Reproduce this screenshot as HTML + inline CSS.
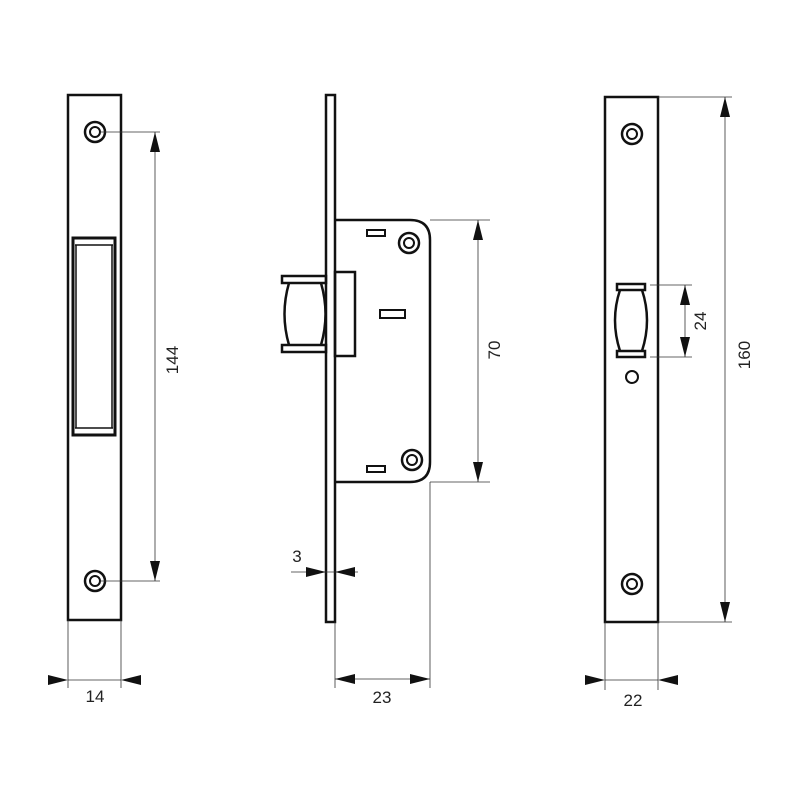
<!DOCTYPE html>
<html><head><meta charset="utf-8"><style>html,body{margin:0;padding:0;background:#fff}svg{display:block}text{font-family:"Liberation Sans",sans-serif;font-size:17px;fill:#222}</style></head>
<body>
<svg width="800" height="800" viewBox="0 0 800 800" xmlns="http://www.w3.org/2000/svg">
<g fill="none" stroke="#111" stroke-width="2.5">
<rect x="68" y="95" width="53" height="525"/>
<circle cx="95" cy="132" r="10"/><circle cx="95" cy="132" r="5" stroke-width="2"/>
<circle cx="95" cy="581" r="10"/><circle cx="95" cy="581" r="5" stroke-width="2"/>
<rect x="73" y="238" width="42" height="197" stroke-width="3"/>
<line x1="75" y1="245" x2="113" y2="245" stroke-width="1.5"/>
<line x1="75" y1="428" x2="113" y2="428" stroke-width="1.5"/>
<line x1="76" y1="245" x2="76" y2="428" stroke-width="1.5"/>
<line x1="112" y1="245" x2="112" y2="428" stroke-width="1.5"/>
<rect x="326" y="95" width="9" height="527"/>
<path d="M335,220H410Q430,220 430,240V462Q430,482 410,482H335"/>
<rect x="335" y="272" width="20" height="84"/>
<rect x="282" y="276" width="44" height="7"/>
<rect x="282" y="345" width="44" height="7"/>
<path d="M289,283Q280,314 289,345M321,283Q330,314 321,345"/>
<rect x="367" y="230" width="18" height="6" stroke-width="2"/>
<rect x="380" y="310" width="25" height="8" stroke-width="2"/>
<rect x="367" y="466" width="18" height="6" stroke-width="2"/>
<circle cx="409" cy="243" r="10"/><circle cx="409" cy="243" r="5" stroke-width="2"/>
<circle cx="412" cy="460" r="10"/><circle cx="412" cy="460" r="5" stroke-width="2"/>
<rect x="605" y="97" width="53" height="525"/>
<circle cx="632" cy="134" r="10"/><circle cx="632" cy="134" r="5" stroke-width="2"/>
<circle cx="632" cy="584" r="10"/><circle cx="632" cy="584" r="5" stroke-width="2"/>
<rect x="617" y="284" width="28" height="6"/>
<rect x="617" y="351" width="28" height="6"/>
<path d="M620,290Q610,320 620,351M642,290Q652,320 642,351"/>
<circle cx="632" cy="377" r="6" stroke-width="2"/>
</g>
<g stroke="#333" stroke-width="0.8" fill="none">
<line x1="100" y1="132" x2="160" y2="132"/><line x1="100" y1="581" x2="160" y2="581"/>
<line x1="155" y1="132" x2="155" y2="581"/>
<line x1="68" y1="620" x2="68" y2="688"/><line x1="121" y1="620" x2="121" y2="688"/>
<line x1="68" y1="680" x2="121" y2="680"/>
<line x1="430" y1="220" x2="490" y2="220"/><line x1="430" y1="482" x2="490" y2="482"/>
<line x1="478" y1="220" x2="478" y2="482"/>
<line x1="291" y1="572" x2="358" y2="572"/>
<line x1="335" y1="622" x2="335" y2="688"/><line x1="430" y1="482" x2="430" y2="688"/>
<line x1="335" y1="679" x2="430" y2="679"/>
<line x1="650" y1="285" x2="692" y2="285"/><line x1="650" y1="357" x2="692" y2="357"/>
<line x1="685" y1="285" x2="685" y2="357"/>
<line x1="658" y1="97" x2="732" y2="97"/><line x1="658" y1="622" x2="732" y2="622"/>
<line x1="725" y1="97" x2="725" y2="622"/>
<line x1="605" y1="622" x2="605" y2="690"/><line x1="658" y1="622" x2="658" y2="690"/>
<line x1="605" y1="680" x2="658" y2="680"/>
</g>
<g stroke="none" fill="#111">
<path d="M155,132l-5,20h10z"/><path d="M155,581l-5,-20h10z"/>
<path d="M68,680l-20,-5v10z"/><path d="M121,680l20,-5v10z"/>
<path d="M478,220l-5,20h10z"/><path d="M478,482l-5,-20h10z"/>
<path d="M326,572l-20,-5v10z"/><path d="M335,572l20,-5v10z"/>
<path d="M335,679l20,-5v10z"/><path d="M430,679l-20,-5v10z"/>
<path d="M685,285l-5,20h10z"/><path d="M685,357l-5,-20h10z"/>
<path d="M725,97l-5,20h10z"/><path d="M725,622l-5,-20h10z"/>
<path d="M605,680l-20,-5v10z"/><path d="M658,680l20,-5v10z"/>
</g>
<text x="95" y="702" text-anchor="middle">14</text>
<text x="382" y="703" text-anchor="middle">23</text>
<text x="633" y="706" text-anchor="middle">22</text>
<text x="297" y="562" text-anchor="middle">3</text>
<text transform="translate(178,360) rotate(-90)" text-anchor="middle">144</text>
<text transform="translate(500,350) rotate(-90)" text-anchor="middle">70</text>
<text transform="translate(706,321) rotate(-90)" text-anchor="middle">24</text>
<text transform="translate(750,355) rotate(-90)" text-anchor="middle">160</text>
</svg>
</body></html>
